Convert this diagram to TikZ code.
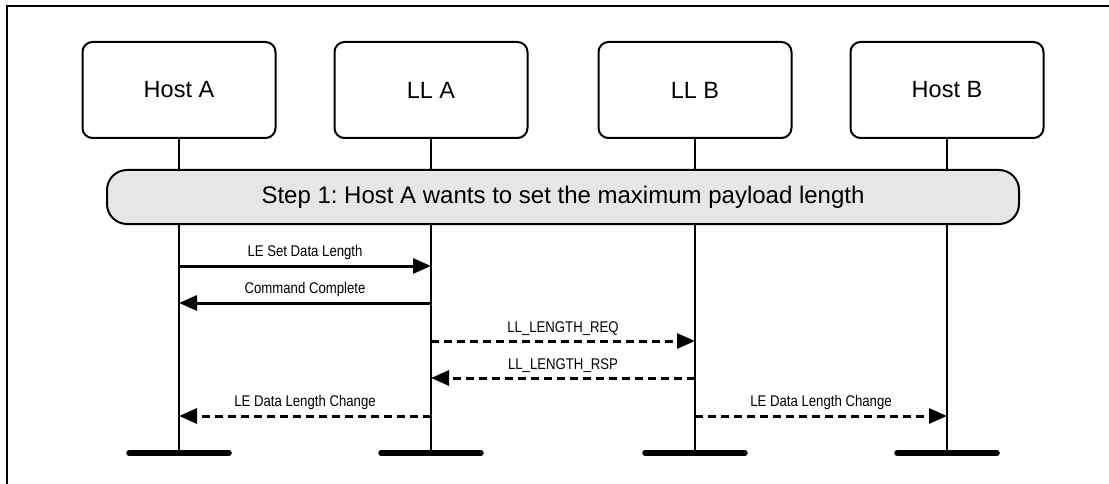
\documentclass[tikz,border=0pt]{standalone}
\usepackage{fontspec}
\setmainfont{Liberation Sans}
\newfontfamily\narrowfont[FakeStretch=0.85]{Liberation Sans}
\usetikzlibrary{arrows.meta,positioning}
\definecolor{bandgray}{HTML}{E6E6E6}
\frenchspacing

\begin{document}
\begin{tikzpicture}[x=1pt, y=-1pt,
  box/.style={draw, line width=2pt, rounded corners=10pt, inner sep=0pt,
              minimum width=193pt, minimum height=96pt,
              font=\fontsize{23.5}{27}\selectfont},
  band/.style={draw, line width=2pt, rounded corners=20pt, fill=bandgray,
               minimum width=912pt, minimum height=54pt, inner sep=0pt,
               font=\fontsize{24}{28}\selectfont},
  life/.style={line width=2pt},
  foot/.style={line width=5.5pt, line cap=round},
  ar/.style={-{Triangle[length=18pt,width=15pt]}, line width=3pt},
  dar/.style={ar, dash pattern=on 8pt off 5pt},
  lab/.style={font=\narrowfont\fontsize{15.5}{18}\selectfont, above=1pt}]
\useasboundingbox (0,0) rectangle (1109,484);
\draw[line width=2pt] (7.3,484) -- (7.3,6.5) -- (1109,6.5);
% participants
\node[box] (hosta) at (179,90) {Host A};
\node[box] (lla)   at (431,90) {LL A};
\node[box] (llb)   at (695,90) {LL B};
\node[box] (hostb) at (947,90) {Host B};
\coordinate (end) at (0,453);
\draw[life] (hosta.south) -- (hosta |- end);
\draw[life] (lla.south) -- (lla |- end);
\draw[life] (llb.south) -- (llb |- end);
\draw[life] (hostb.south) -- (hostb |- end);
\node[band] (step) at (563,197) {Step 1: Host A wants to set the maximum payload length};
\draw[foot] ([xshift=-50pt]hosta |- end) -- ([xshift=50pt]hosta |- end);
\draw[foot] ([xshift=-50pt]lla |- end) -- ([xshift=50pt]lla |- end);
\draw[foot] ([xshift=-50pt]llb |- end) -- ([xshift=50pt]llb |- end);
\draw[foot] ([xshift=-50pt]hostb |- end) -- ([xshift=50pt]hostb |- end);
% messages
\coordinate (m1) at (0,266);
\coordinate (m2) at (0,303);
\coordinate (m3) at (0,341);
\coordinate (m4) at (0,378);
\coordinate (m5) at (0,416);
\draw[ar] (hosta |- m1) -- node[lab]{LE Set Data Length} (lla |- m1);
\draw[ar] (lla |- m2) -- node[lab]{Command Complete} (hosta |- m2);
\draw[dar] (lla |- m3) -- node[lab]{LL\_LENGTH\_REQ} (llb |- m3);
\draw[dar] (llb |- m4) -- node[lab]{LL\_LENGTH\_RSP} (lla |- m4);
\draw[dar] (lla |- m5) -- node[lab]{LE Data Length Change} (hosta |- m5);
\draw[dar] (llb |- m5) -- node[lab]{LE Data Length Change} (hostb |- m5);
\end{tikzpicture}
\end{document}
